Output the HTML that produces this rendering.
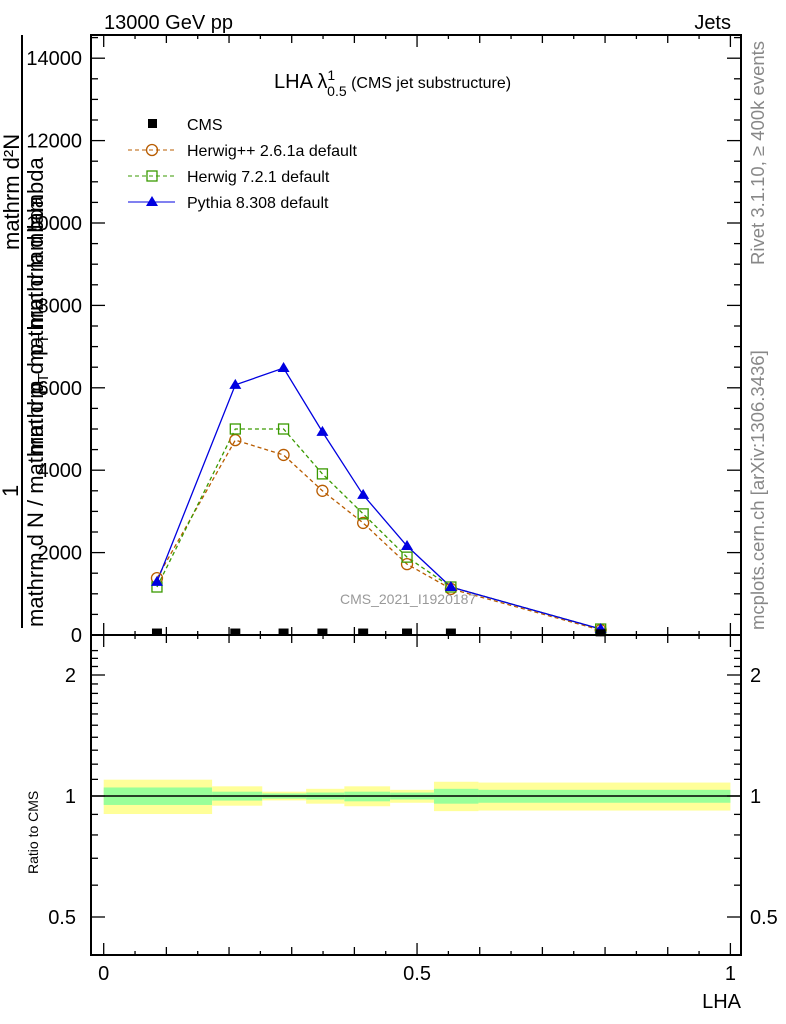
<!DOCTYPE html>
<html><head><meta charset="utf-8"><style>
html,body{margin:0;padding:0;background:#fff}
svg{display:block;font-family:"Liberation Sans",sans-serif}
</style></head><body>
<svg id="chart" width="786" height="1024" viewBox="0 0 786 1024" xmlns="http://www.w3.org/2000/svg">
<g id="bands"></g>
<g id="ticks" stroke="#000" stroke-width="1.3"></g>
<g id="series"></g>
<rect x="91" y="35" width="650" height="600" fill="none" stroke="#000" stroke-width="2"/>
<rect x="91" y="635" width="650" height="320" fill="none" stroke="#000" stroke-width="2"/>
<text x="104" y="29" font-size="20">13000 GeV pp</text>
<text x="731" y="29" font-size="20" text-anchor="end">Jets</text>
<text x="274" y="88" font-size="20">LHA λ<tspan font-size="14" dy="-8">1</tspan><tspan font-size="14" dx="-8" dy="16">0.5</tspan><tspan font-size="16" dy="-8"> (CMS jet substructure)</tspan></text>
<text x="340" y="604" font-size="14" fill="#999">CMS_2021_I1920187</text>
<text transform="translate(764,265) rotate(-90)" font-size="18.5" fill="#888">Rivet 3.1.10, ≥ 400k events</text>
<text transform="translate(764,630) rotate(-90)" font-size="18.5" fill="#888">mcplots.cern.ch [arXiv:1306.3436]</text>
<g font-size="22">
<text transform="translate(19,250) rotate(-90)">mathrm d²N</text>
<line x1="22" y1="35" x2="22" y2="628" stroke="#000" stroke-width="2"/>
<text transform="translate(43,455) rotate(-90)">mathrm d p<tspan font-size="15" dy="5">T</tspan><tspan dy="-5"> mathrm d lambda</tspan></text>
<text transform="translate(18,497) rotate(-90)">1</text>
<text transform="translate(43,627) rotate(-90)">mathrm d N / mathrm d p<tspan font-size="15" dy="5">T</tspan><tspan dy="-5"> mathrm d lambda</tspan></text>
</g>
<text transform="translate(38,874) rotate(-90)" font-size="14">Ratio to CMS</text>
<text x="741" y="1008" font-size="20" text-anchor="end">LHA</text>
<g font-size="16">
<g><rect x="148" y="119" width="9" height="9" fill="#000"/><text x="187" y="130">CMS</text></g>
<g><line x1="128" y1="150" x2="175" y2="150" stroke="#b85c00" stroke-dasharray="4,3"/><circle cx="152" cy="150" r="5.5" fill="none" stroke="#b85c00" stroke-width="1.3"/><text x="187" y="156">Herwig++ 2.6.1a default</text></g>
<g><line x1="128" y1="176" x2="175" y2="176" stroke="#3a9a00" stroke-dasharray="4,3"/><rect x="147" y="171" width="10" height="10" fill="none" stroke="#3a9a00" stroke-width="1.3"/><text x="187" y="182">Herwig 7.2.1 default</text></g>
<g><line x1="128" y1="202" x2="175" y2="202" stroke="#0000e0"/><polygon points="152,196 158,206 146,206" fill="#0000e0"/><text x="187" y="208">Pythia 8.308 default</text></g>
</g>
</svg>
<script>
const xVals=[0.085,0.21,0.287,0.349,0.414,0.484,0.554,0.793];
const cmsVals=[60,60,60,60,60,60,60,40];
const herwigppVals=[1380,4730,4370,3500,2720,1720,1120,120];
const herwig7Vals=[1165,5000,5000,3910,2940,1890,1165,145];
const pythiaVals=[1290,6070,6480,4930,3400,2160,1165,145];
const binEdges=[0,0.173,0.253,0.323,0.384,0.457,0.527,0.598,1.0];
const yellowHi=[1.098,1.057,1.025,1.042,1.057,1.036,1.085,1.08];
const yellowLo=[0.902,0.946,0.975,0.957,0.943,0.962,0.917,0.92];
const greenHi=[1.05,1.025,1.015,1.02,1.025,1.02,1.042,1.036];
const greenLo=[0.95,0.974,0.985,0.98,0.97,0.98,0.957,0.962];
const yTicks=[0,2000,4000,6000,8000,10000,12000,14000];
const rTicks=[0.5,1,2];
const xTickLabels=[0,0.5,1];

const NS='http://www.w3.org/2000/svg';
const X=v=>103.7+v*626.7;
const Y=v=>635-v*0.0412;
const R=v=>796-Math.log2(v)*121;
function mk(tag,attrs,parent){const e=document.createElementNS(NS,tag);for(const k in attrs)e.setAttribute(k,attrs[k]);parent.appendChild(e);return e;}
const bands=document.getElementById('bands'),ticks=document.getElementById('ticks'),series=document.getElementById('series'),svg=document.getElementById('chart');

for(let i=0;i<binEdges.length-1;i++){
 const x0=X(binEdges[i]),w=X(binEdges[i+1])-x0;
 const y=mk('rect',{x:x0,y:R(yellowHi[i]),width:w,height:R(yellowLo[i])-R(yellowHi[i]),fill:'#ffff99'},bands);
 
 
 const g=mk('rect',{x:x0,y:R(greenHi[i]),width:w,height:R(greenLo[i])-R(greenHi[i]),fill:'#99ff99'},bands);
 
 
}
const one=mk('line',{x1:91,x2:741,y1:R(1),y2:R(1),stroke:'#000','stroke-width':1.5},bands);



for(let k=0;k<=20;k++){
 const v=k*0.05,x=X(v),len=(k%10===0)?12:(k%2===0?8:4);
 mk('line',{x1:x,x2:x,y1:635,y2:635-len},ticks);mk('line',{x1:x,x2:x,y1:35,y2:35+len},ticks);
 mk('line',{x1:x,x2:x,y1:955,y2:955-len},ticks);mk('line',{x1:x,x2:x,y1:635,y2:635+len},ticks);
}
xTickLabels.forEach(v=>{const t=mk('text',{x:X(v),y:980,'font-size':20,'text-anchor':'middle'},svg);t.textContent=String(v);
 
 });
for(let v=0;v<=14500;v+=500){
 const y=Y(v),len=(v%2000===0)?14:7;
 mk('line',{x1:91,x2:91+len,y1:y,y2:y},ticks);mk('line',{x1:741,x2:741-len,y1:y,y2:y},ticks);
}
yTicks.forEach(v=>{const t=mk('text',{x:82,y:Y(v)+7,'font-size':20,'text-anchor':'end'},svg);t.textContent=String(v);
 
 });
[0.4,0.5,0.6,0.7,0.8,0.9,1,1.1,1.2,1.3,1.4,1.5,1.6,1.7,1.8,1.9,2,2.1,2.2,2.3].forEach(v=>{
 const y=R(v);if(y<637||y>953)return;const len=(v===0.5||v===1||v===2)?14:7;
 mk('line',{x1:91,x2:91+len,y1:y,y2:y},ticks);mk('line',{x1:741,x2:741-len,y1:y,y2:y},ticks);
});
rTicks.forEach(v=>{
 const t=mk('text',{x:76,y:R(v)+7,'font-size':20,'text-anchor':'end'},svg);t.textContent=String(v);
 
 
 const t2=mk('text',{x:750,y:R(v)+7,'font-size':20},svg);t2.textContent=String(v);
 
 
});
function line(vals,color,dash,name){
 const p=mk('polyline',{points:vals.map((v,i)=>X(xVals[i])+','+Y(v)).join(' '),fill:'none',stroke:color,'stroke-width':1.3},series);
 if(dash)p.setAttribute('stroke-dasharray',dash);
 
 
}
line(herwigppVals,'#b85c00','4,3','herwigpp-line');
line(herwig7Vals,'#3a9a00','4,3','herwig7-line');
line(pythiaVals,'#0000e0',null,'pythia-line');
herwigppVals.forEach((v,i)=>{const c=mk('circle',{cx:X(xVals[i]),cy:Y(v),r:5.5,fill:'none',stroke:'#b85c00','stroke-width':1.3},series);
 
 });
herwig7Vals.forEach((v,i)=>{const c=mk('rect',{x:X(xVals[i])-5,y:Y(v)-5,width:10,height:10,fill:'none',stroke:'#3a9a00','stroke-width':1.3},series);
 
 });
pythiaVals.forEach((v,i)=>{const x=X(xVals[i]),y=Y(v);const c=mk('polygon',{points:`${x},${y-6} ${x+6},${y+4} ${x-6},${y+4}`,fill:'#0000e0'},series);
 
 });
cmsVals.forEach((v,i)=>{const c=mk('rect',{x:X(xVals[i])-5,y:Y(v)-4,width:10,height:7,fill:'#000'},series);
 
 });
</script>
</body></html>
